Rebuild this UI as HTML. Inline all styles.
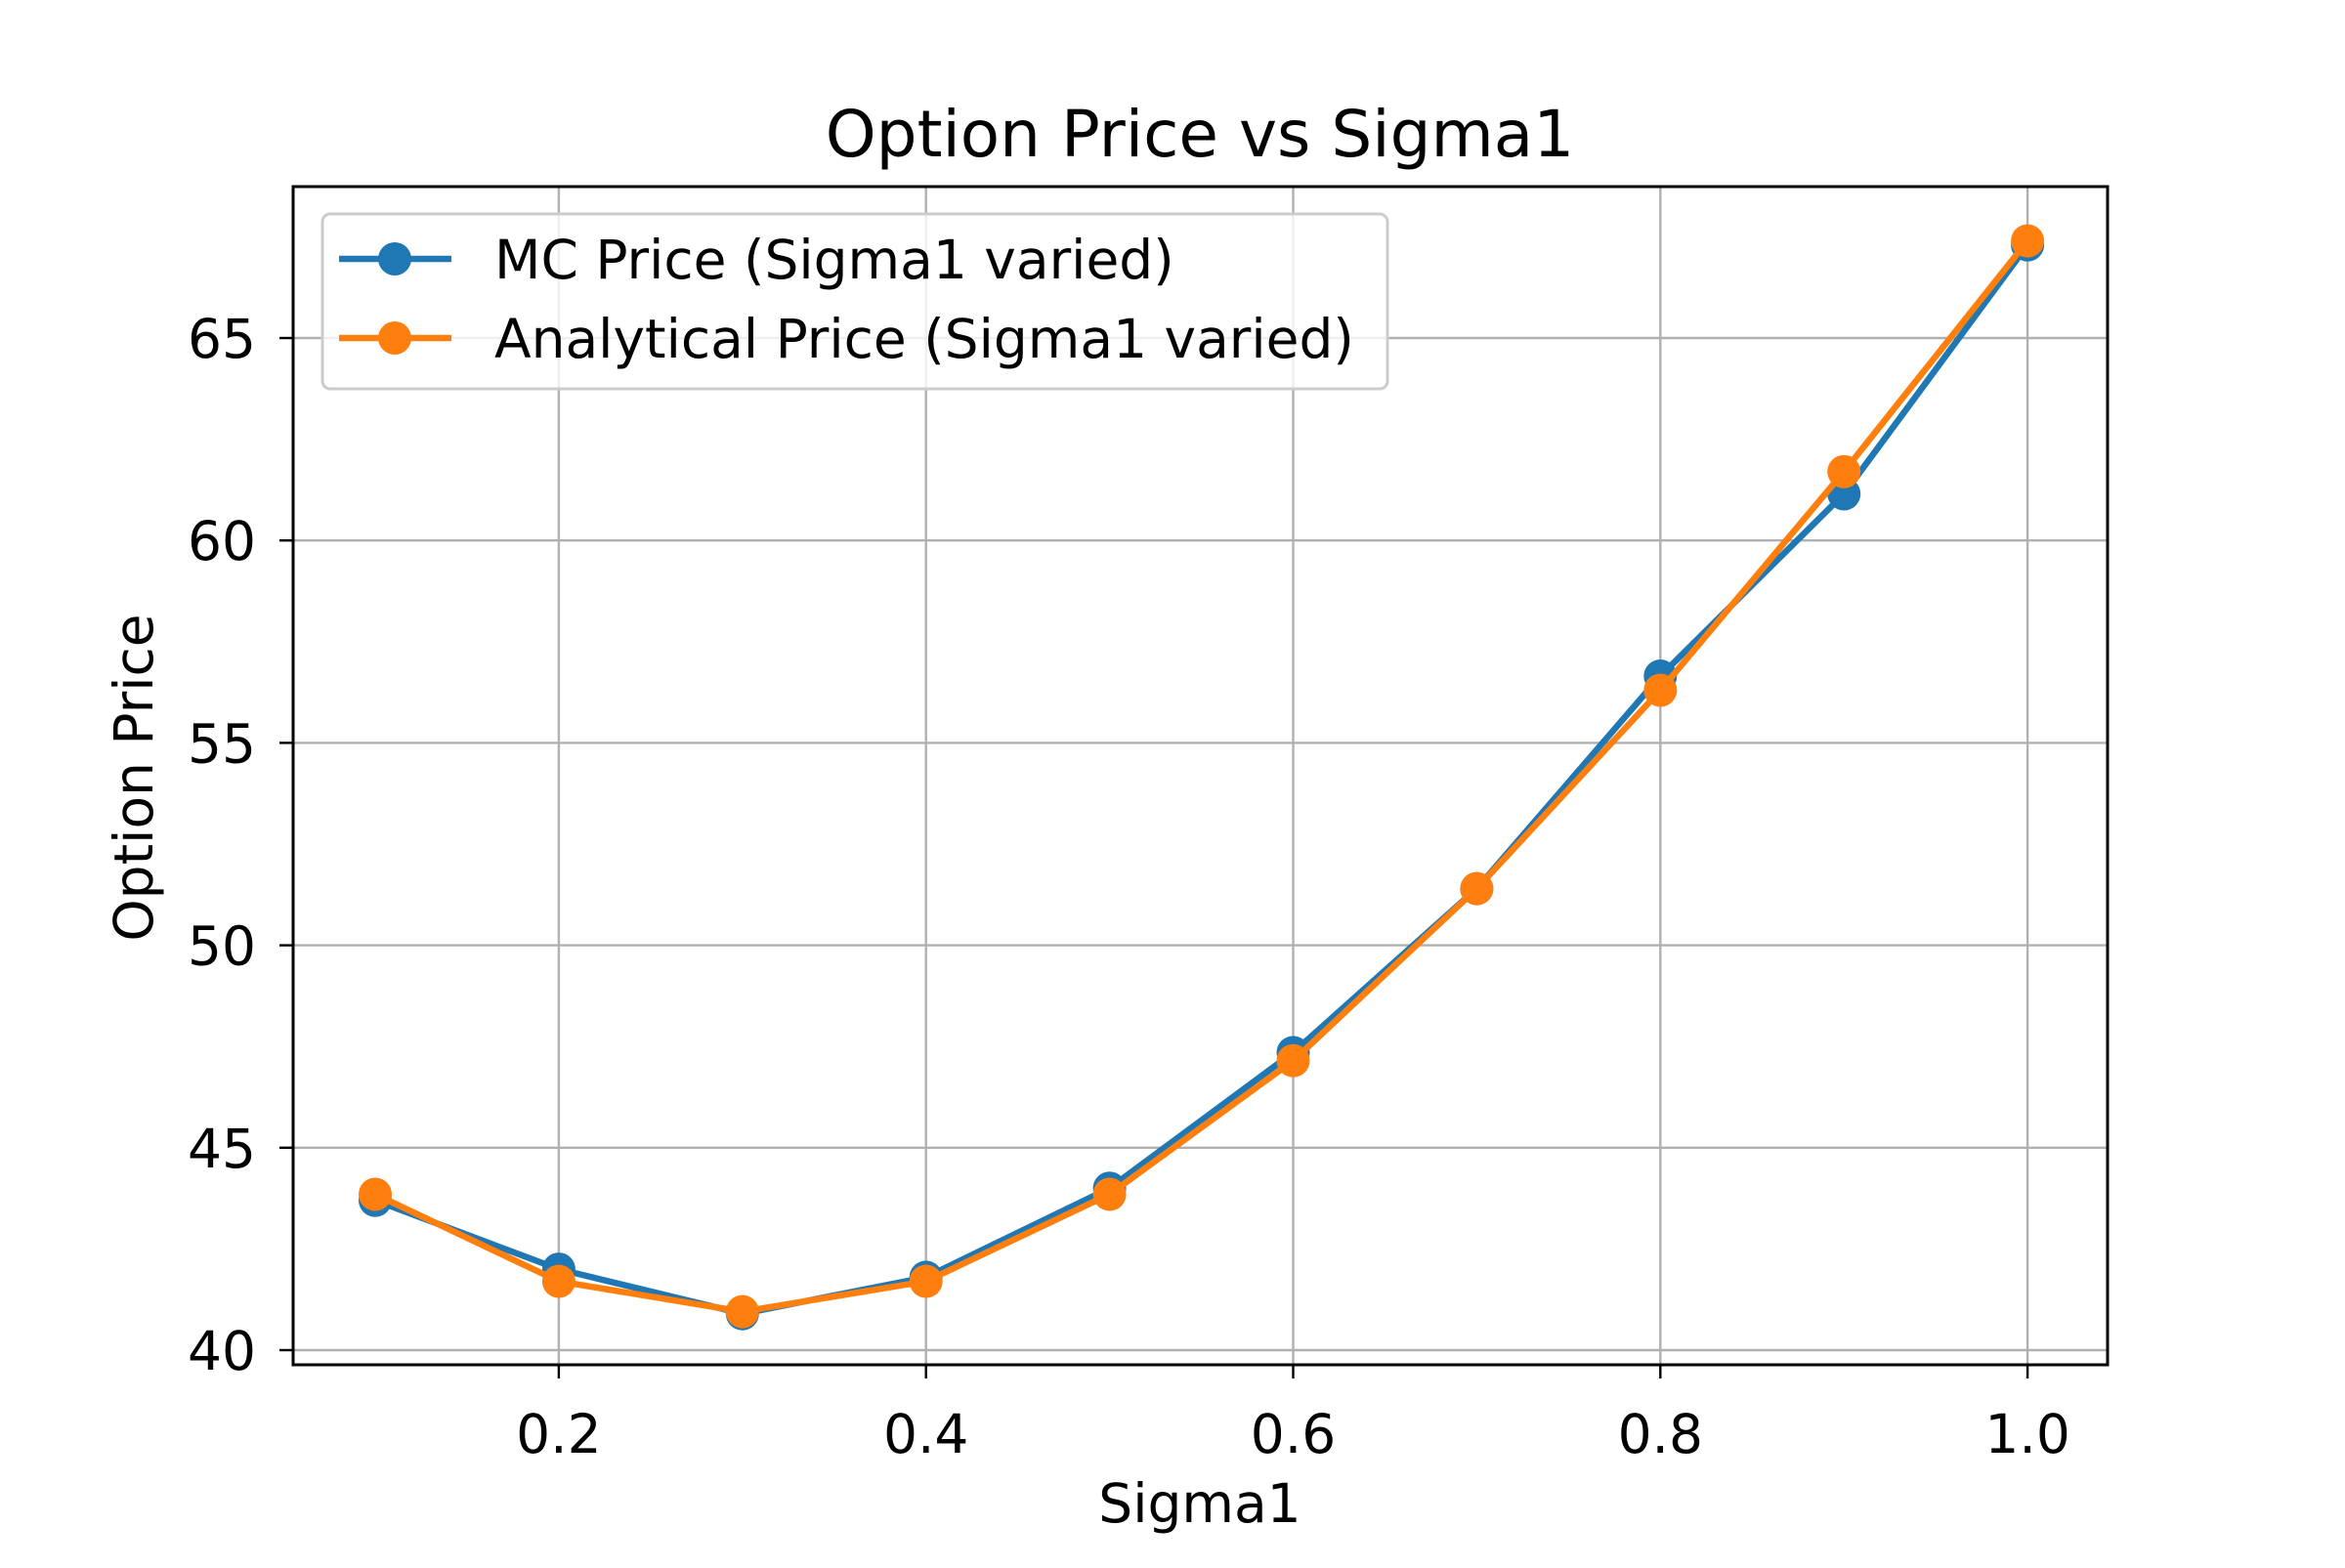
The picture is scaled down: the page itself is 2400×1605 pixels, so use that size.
<!DOCTYPE html>
<html><head><meta charset="utf-8"><style>
body{margin:0;background:#fff}
svg text{font-family:"DejaVu Sans","Liberation Sans",sans-serif;fill:#000}
</style></head><body>
<svg width="2400" height="1600" viewBox="0 0 2400 1600" xmlns="http://www.w3.org/2000/svg">
<rect width="2400" height="1600" fill="#fff"/>
<g id="grid"></g>
<g id="series"></g>
<rect x="300" y="191" width="1857" height="1206" fill="none" stroke="#000" stroke-width="3"/>
<g id="ticks"></g>
<text x="1228" y="160" font-size="66" text-anchor="middle">Option Price vs Sigma1</text>
<text x="1228" y="1558" font-size="55" text-anchor="middle">Sigma1</text>
<text x="0" y="0" font-size="55" text-anchor="middle" transform="translate(156,796) rotate(-90)">Option Price</text>
<g>
<rect x="330" y="219" width="1090" height="179" rx="8" fill="#fff" fill-opacity="0.8" stroke="#ccc" stroke-width="3"/>
<g>
<line x1="347" y1="265" x2="462" y2="265" stroke="#1f77b4" stroke-width="6.5"/>
<circle cx="404" cy="265" r="17" fill="#1f77b4"/>
<text x="506" y="285" font-size="55">MC Price (Sigma1 varied)</text></g>
<g>
<line x1="347" y1="346" x2="462" y2="346" stroke="#ff7f0e" stroke-width="6.5"/>
<circle cx="404" cy="346" r="17" fill="#ff7f0e"/>
<text x="506" y="366" font-size="55">Analytical Price (Sigma1 varied)</text></g>
</g>
</svg>
<script>
const sigma = [0.1,0.2,0.3,0.4,0.5,0.6,0.7,0.8,0.9,1.0];
const mcPrice = [43.7,42.0,40.9,41.8,44.0,47.35,51.4,56.65,61.15,67.3];
const anPrice = [43.85,41.7,40.95,41.7,43.85,47.15,51.4,56.3,61.7,67.4];
const xTicks = [0.2,0.4,0.6,0.8,1.0];
const xTickLabels = ["0.2","0.4","0.6","0.8","1.0"];
const yTicks = [40,45,50,55,60,65];
const yTickLabels = ["40","45","50","55","60","65"];
const NS="http://www.w3.org/2000/svg";
const X=v=>384+(v-0.1)*1879;
const Y=v=>1382-(v-40)*41.44;
function mk(t,a,p){const e=document.createElementNS(NS,t);for(const k in a)e.setAttribute(k,a[k]);p.appendChild(e);return e;}
const grid=document.getElementById('grid'),ticks=document.getElementById('ticks'),ser=document.getElementById('series');
xTicks.forEach((v,i)=>{
 const g=mk('line',{x1:X(v),x2:X(v),y1:191,y2:1397,stroke:'#b0b0b0','stroke-width':2.4},grid);
 
 
 const t=mk('line',{x1:X(v),x2:X(v),y1:1397,y2:1411,stroke:'#000','stroke-width':2.4},ticks);
 
 
 const l=mk('text',{x:X(v),y:1487,'font-size':55,'text-anchor':'middle'},ticks);l.textContent=xTickLabels[i];
 
 
});
yTicks.forEach((v,i)=>{
 const g=mk('line',{x1:300,x2:2157,y1:Y(v),y2:Y(v),stroke:'#b0b0b0','stroke-width':2.4},grid);
 
 
 const t=mk('line',{x1:286,x2:300,y1:Y(v),y2:Y(v),stroke:'#000','stroke-width':2.4},ticks);
 
 
 const l=mk('text',{x:262,y:Y(v)+20,'font-size':55,'text-anchor':'end'},ticks);l.textContent=yTickLabels[i];
 
 
});
[[mcPrice,'#1f77b4','mc'],[anPrice,'#ff7f0e','analytical']].forEach(([d,c,n])=>{
 const pl=mk('polyline',{points:d.map((v,i)=>X(sigma[i])+','+Y(v)).join(' '),fill:'none',stroke:c,'stroke-width':6.5,'stroke-linejoin':'round'},ser);
 
 
 d.forEach((v,i)=>{const m=mk('circle',{cx:X(sigma[i]),cy:Y(v),r:17,fill:c},ser);
  
  });
});
</script>
</body></html>
